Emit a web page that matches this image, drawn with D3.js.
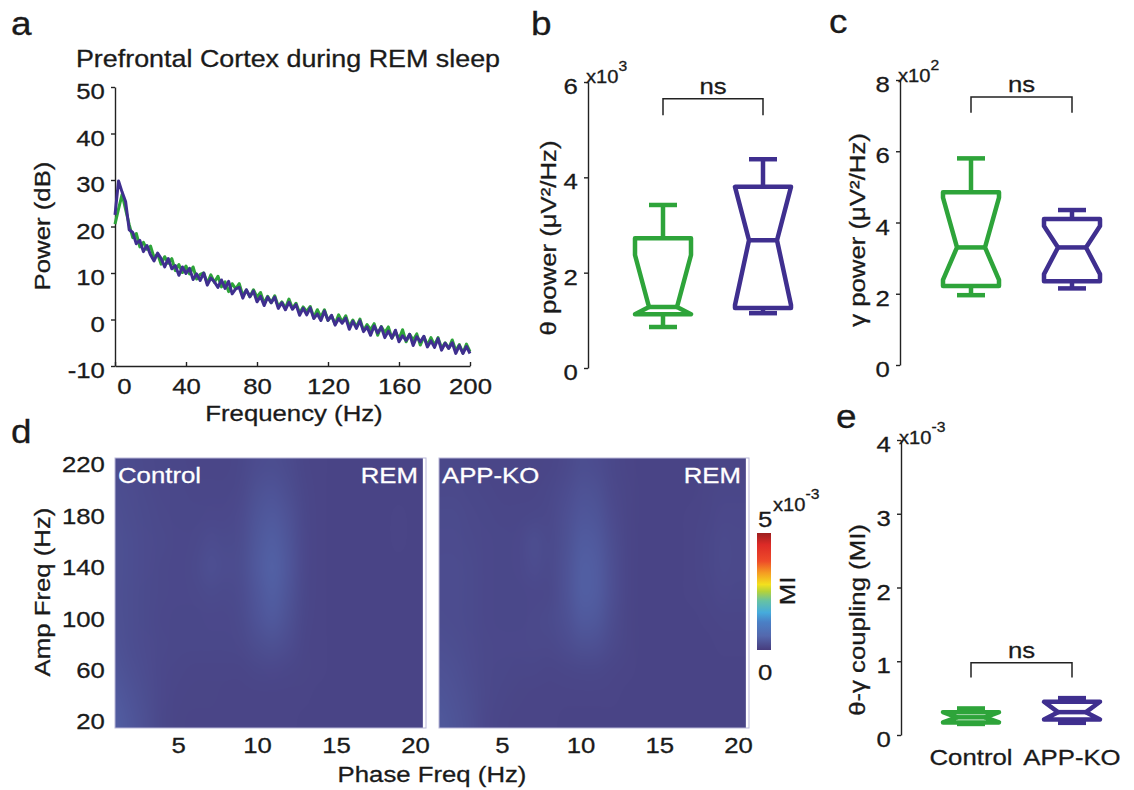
<!DOCTYPE html>
<html>
<head>
<meta charset="utf-8">
<script src="https://cdn.jsdelivr.net/npm/d3@7"></script>
<style>
  body { margin: 0; background: #fff; }
  text { font-family: "Liberation Sans", Arial, sans-serif; fill: #1a1a1a; stroke: #1a1a1a; stroke-width: 0.3px; }
  text.inv { fill: #fff; stroke: #fff; }
</style>
</head>
<body>
<script>
// ---- data ----
var groups = ["Control", "APP-KO"];
var groupColors = ["#2ea43a", "#3f2f8f"];

// PSD (dB), 0..200 Hz every 2 Hz
var psdStep = 2;
var psdControl = [
  20.5, 23.8, 26.9, 23.6, 20.4, 17.6, 18.5, 15.6, 16.6, 15.1,
  15.8, 13.3, 14.1, 11.9, 13.5, 12.1, 13.1, 10.5, 11.8, 10.1,
  11.5, 9.8, 11.3, 8.7, 9.7, 10.0, 7.8, 9.6, 8.0, 9.3,
  7.0, 8.1, 6.0, 7.7, 6.6, 7.7, 5.2, 6.3, 4.9, 6.4,
  4.8, 5.8, 3.5, 5.0, 3.6, 5.1, 2.8, 3.8, 2.4, 4.4,
  2.4, 3.5, 1.4, 2.7, 1.7, 2.8, 0.4, 2.1, 0.5, 2.1,
  -0.2, 0.8, -1.0, 1.0, -0.5, 0.8, -1.5, -0.1, -1.6, 0.1,
  -2.4, -1.1, -2.2, -0.9, -3.4, -1.5, -2.8, -1.6, -4.0, -2.7,
  -4.2, -2.2, -4.8, -3.2, -4.4, -3.1, -5.5, -3.7, -5.5, -3.9,
  -5.5, -3.9, -6.2, -5.0, -6.2, -4.4, -6.7, -5.4, -7.2, -5.3,
  -6.9
];
var psdAppKo = [
  22.5, 29.8, 27.4, 25.3, 19.3, 18.7, 16.3, 17.0, 14.6, 15.9,
  13.9, 12.6, 14.3, 13.1, 11.3, 13.1, 10.9, 11.6, 9.5, 11.3,
  9.9, 11.0, 8.6, 9.8, 8.4, 10.0, 7.4, 8.9, 8.1, 6.9,
  8.5, 6.7, 8.2, 5.5, 6.6, 6.9, 4.6, 6.4, 4.9, 6.1,
  3.8, 5.0, 3.0, 4.8, 3.6, 4.8, 2.4, 3.6, 2.1, 3.7,
  2.2, 3.2, 0.9, 2.4, 1.0, 2.5, 0.2, 1.2, -0.2, 1.8,
  -0.2, 0.9, -1.2, 0.2, -0.8, 0.3, -2.1, -0.4, -1.9, -0.3,
  -2.6, -1.6, -3.4, -1.4, -2.9, -1.6, -3.9, -2.5, -4.0, -2.3,
  -4.8, -3.5, -4.5, -3.2, -5.6, -3.7, -4.8, -3.6, -5.9, -4.6,
  -6.0, -4.1, -6.6, -5.1, -6.2, -5.0, -7.3, -5.6, -7.3, -5.8,
  -7.3
];
var psdTicksX = [0, 40, 80, 120, 160, 200];
var psdTicksY = [-10, 0, 10, 20, 30, 40, 50];

// notched box stats
var thetaPower = [ // x10^3 uV^2/Hz
  { whiskerLo: 0.86, q1: 1.13, notchLo: 1.13, median: 1.28, notchHi: 2.37, q3: 2.72, whiskerHi: 3.42 },
  { whiskerLo: 1.15, q1: 1.26, notchLo: 1.32, median: 2.68, notchHi: 3.80, q3: 3.80, whiskerHi: 4.38 }
];
var gammaPower = [ // x10^2 uV^2/Hz
  { whiskerLo: 1.96, q1: 2.22, notchLo: 2.39, median: 3.30, notchHi: 4.70, q3: 4.85, whiskerHi: 5.80 },
  { whiskerLo: 2.15, q1: 2.35, notchLo: 2.55, median: 3.30, notchHi: 3.90, q3: 4.10, whiskerHi: 4.35 }
];
var couplingMI = [ // x10^-3
  { whiskerLo: 0.15, q1: 0.17, notchLo: 0.17, median: 0.24, notchHi: 0.31, q3: 0.31, whiskerHi: 0.36 },
  { whiskerLo: 0.165, q1: 0.21, notchLo: 0.21, median: 0.31, notchHi: 0.45, q3: 0.45, whiskerHi: 0.50 }
];

// comodulograms (MI x10^-3), rows = amp freq, cols = phase freq
var phaseFreqs = [1, 2, 3, 4, 5, 6, 7, 8, 9, 10, 11, 12, 13, 14, 15, 16, 17, 18, 19, 20];
var ampFreqs = [220, 200, 180, 160, 140, 120, 100, 80, 60, 40, 20];
var miControl = [
  [0.22,0.20,0.18,0.16,0.15,0.14,0.14,0.14,0.16,0.22,0.24,0.20,0.14,0.12,0.11,0.11,0.11,0.11,0.11,0.11],
  [0.24,0.22,0.19,0.17,0.16,0.15,0.15,0.15,0.18,0.28,0.32,0.24,0.15,0.12,0.11,0.11,0.11,0.11,0.11,0.11],
  [0.26,0.23,0.20,0.18,0.16,0.16,0.17,0.17,0.21,0.34,0.40,0.30,0.16,0.12,0.11,0.11,0.11,0.11,0.12,0.11],
  [0.28,0.25,0.21,0.19,0.17,0.18,0.22,0.20,0.23,0.38,0.46,0.34,0.17,0.12,0.11,0.11,0.11,0.11,0.12,0.11],
  [0.28,0.25,0.21,0.18,0.17,0.19,0.26,0.22,0.24,0.40,0.50,0.36,0.17,0.12,0.11,0.11,0.11,0.11,0.11,0.11],
  [0.27,0.24,0.20,0.18,0.17,0.18,0.20,0.19,0.22,0.36,0.46,0.33,0.16,0.12,0.11,0.11,0.11,0.11,0.11,0.11],
  [0.28,0.24,0.20,0.17,0.16,0.16,0.17,0.17,0.20,0.32,0.40,0.28,0.15,0.12,0.11,0.11,0.11,0.11,0.11,0.11],
  [0.30,0.25,0.21,0.18,0.16,0.16,0.16,0.16,0.18,0.24,0.28,0.22,0.14,0.12,0.11,0.11,0.11,0.11,0.11,0.11],
  [0.34,0.27,0.22,0.17,0.15,0.14,0.14,0.14,0.14,0.16,0.17,0.15,0.13,0.12,0.11,0.11,0.11,0.11,0.11,0.11],
  [0.40,0.32,0.24,0.17,0.14,0.13,0.13,0.12,0.12,0.12,0.12,0.12,0.12,0.11,0.11,0.11,0.11,0.11,0.11,0.11],
  [0.45,0.36,0.26,0.16,0.13,0.12,0.12,0.12,0.12,0.12,0.12,0.12,0.11,0.11,0.11,0.11,0.11,0.11,0.11,0.11]
];
var miAppKo = [
  [0.16,0.16,0.15,0.14,0.14,0.13,0.13,0.14,0.18,0.24,0.22,0.16,0.12,0.11,0.11,0.11,0.11,0.12,0.13,0.13],
  [0.18,0.18,0.16,0.15,0.14,0.14,0.14,0.16,0.22,0.30,0.28,0.18,0.13,0.11,0.11,0.11,0.11,0.13,0.15,0.15],
  [0.20,0.20,0.18,0.16,0.15,0.15,0.16,0.18,0.26,0.36,0.34,0.21,0.13,0.11,0.11,0.11,0.12,0.14,0.17,0.17],
  [0.21,0.21,0.19,0.17,0.16,0.17,0.24,0.19,0.28,0.42,0.40,0.24,0.14,0.11,0.11,0.11,0.12,0.15,0.19,0.18],
  [0.22,0.22,0.20,0.17,0.16,0.17,0.22,0.19,0.30,0.46,0.44,0.26,0.14,0.11,0.11,0.11,0.12,0.15,0.19,0.18],
  [0.22,0.22,0.20,0.17,0.16,0.16,0.17,0.18,0.30,0.46,0.44,0.26,0.14,0.11,0.11,0.11,0.12,0.14,0.17,0.16],
  [0.23,0.22,0.20,0.17,0.16,0.16,0.18,0.20,0.27,0.40,0.38,0.23,0.13,0.11,0.11,0.11,0.11,0.12,0.14,0.14],
  [0.26,0.24,0.21,0.18,0.17,0.17,0.18,0.18,0.22,0.28,0.27,0.19,0.13,0.11,0.11,0.11,0.11,0.11,0.12,0.12],
  [0.30,0.27,0.22,0.18,0.16,0.15,0.15,0.14,0.15,0.16,0.16,0.14,0.12,0.11,0.11,0.11,0.11,0.11,0.11,0.11],
  [0.34,0.30,0.24,0.18,0.15,0.13,0.12,0.12,0.12,0.12,0.12,0.12,0.11,0.11,0.11,0.11,0.11,0.11,0.11,0.11],
  [0.38,0.33,0.26,0.17,0.14,0.12,0.12,0.12,0.11,0.11,0.11,0.11,0.11,0.11,0.11,0.11,0.11,0.11,0.11,0.11]
];
var miStops = [0, 0.6, 1.2, 1.6, 2.1, 2.5, 2.8, 3.3, 3.8, 4.5, 5];
var miColors = ["#473c7d", "#5468ad", "#4a80c6", "#46abdc", "#66c2a4", "#b4d23a",
                "#f3e01e", "#f59c22", "#ee4b29", "#dd2a27", "#9c1f1f"];

// ---- setup ----
var SX = 1.12;   // text in the figure is a bit wider than Arial
var FS = 23;
var width = 1134, height = 790;
var plain = function (d) { return String(d).replace("\u2212", "-"); };

var svg = d3.select("body").append("svg")
    .attr("width", width)
    .attr("height", height);

function addText(parent, x, y, str, size, anchor, rot) {
  return parent.append("text")
      .attr("transform", "translate(" + x + "," + y + ")" + (rot ? " rotate(" + rot + ")" : "") + " scale(" + SX + ",1)")
      .attr("font-size", size)
      .attr("text-anchor", anchor || "start")
      .text(str);
}

function styleAxis(g) {
  g.attr("font-size", FS).attr("font-family", null);
  g.select(".domain").attr("stroke", "#222").attr("stroke-width", 1.4);
  g.selectAll(".tick line").attr("stroke", "#222").attr("stroke-width", 1.4);
  g.selectAll(".tick text").attr("fill", "#1a1a1a").attr("transform", "scale(" + SX + ",1)");
}

function exponent(parent, x, y, pow) {
  var t = parent.append("text")
      .attr("transform", "translate(" + x + "," + y + ") scale(" + SX + ",1)")
      .attr("font-size", 18);
  t.append("tspan").text("x10");
  t.append("tspan").attr("dy", -12).attr("font-size", 14).text(pow);
}

// ---- a: power spectrum ----
var xA = d3.scaleLinear().domain([0, 200]).range([115, 470]);
var yA = d3.scaleLinear().domain([-10, 50]).range([366, 87]);

addText(svg, 11, 35, "a", 33);
addText(svg, 288, 67, "Prefrontal Cortex during REM sleep", 24, "middle");

svg.append("g")
    .attr("transform", "translate(115,0)")
    .call(d3.axisLeft(yA).tickValues(psdTicksY).tickFormat(plain).tickSize(4).tickSizeOuter(0).tickPadding(5))
    .call(styleAxis)
    .selectAll(".tick text").attr("dy", "0.5em");

var axA = svg.append("g")
    .attr("transform", "translate(0,366)")
    .call(d3.axisBottom(xA).tickValues(psdTicksX).tickFormat(plain).tickSize(-4).tickSizeOuter(0).tickPadding(12))
    .call(styleAxis);
axA.selectAll(".tick text").filter(function (d) { return d === 0; }).attr("x", 8);

addText(svg, 42, 226, "Power (dB)", FS, "middle", -90).attr("dy", "0.35em");
addText(svg, 294, 421, "Frequency (Hz)", FS, "middle");

var psdLine = d3.line()
    .x(function (d, i) { return xA(i * psdStep); })
    .y(function (d) { return yA(d); });

[psdControl, psdAppKo].forEach(function (series, i) {
  svg.append("path")
      .datum(series)
      .attr("d", psdLine)
      .attr("fill", "none")
      .attr("stroke", groupColors[i])
      .attr("stroke-width", 3)
      .attr("stroke-linejoin", "round");
});

// ---- box panels b, c, e ----
function boxPanel(opt) {
  var y = d3.scaleLinear().domain(opt.domain).range(opt.yRange);
  var x = d3.scalePoint().domain(groups).range(opt.centers);
  var w = 56;

  addText(svg, opt.letter[0], opt.letter[1], opt.letter[2], 33);

  svg.append("g")
      .attr("transform", "translate(" + opt.axisX + ",0)")
      .call(d3.axisLeft(y).tickValues(opt.ticks).tickFormat(plain).tickSize(4).tickSizeOuter(0).tickPadding(5))
      .call(styleAxis)
      .selectAll(".tick text").attr("dy", "0.5em");

  exponent(svg, opt.axisX - 2, opt.expY, opt.pow);
  addText(svg, opt.labelX, opt.labelY, opt.label, FS, "middle", -90).attr("dy", "0.35em");

  opt.stats.forEach(function (s, i) {
    var cx = x(groups[i]);
    var L = cx - w / 2, R = cx + w / 2, nL = cx - w / 4, nR = cx + w / 4;
    var g = svg.append("g")
        .attr("fill", "none")
        .attr("stroke", groupColors[i])
        .attr("stroke-width", 4.5);
    var pts = [[L, y(s.q3)], [R, y(s.q3)], [R, y(s.notchHi)], [nR, y(s.median)], [R, y(s.notchLo)],
               [R, y(s.q1)], [L, y(s.q1)], [L, y(s.notchLo)], [nL, y(s.median)], [L, y(s.notchHi)]];
    g.append("path").attr("d", d3.line()(pts) + "Z").attr("stroke-linejoin", "round");
    g.append("line").attr("x1", nL).attr("x2", nR).attr("y1", y(s.median)).attr("y2", y(s.median));
    g.append("line").attr("x1", cx).attr("x2", cx).attr("y1", y(s.q3)).attr("y2", y(s.whiskerHi));
    g.append("line").attr("x1", cx - w / 4).attr("x2", cx + w / 4).attr("y1", y(s.whiskerHi)).attr("y2", y(s.whiskerHi));
    g.append("line").attr("x1", cx).attr("x2", cx).attr("y1", y(s.q1)).attr("y2", y(s.whiskerLo));
    g.append("line").attr("x1", cx - w / 4).attr("x2", cx + w / 4).attr("y1", y(s.whiskerLo)).attr("y2", y(s.whiskerLo));
  });

  // significance bracket
  var bx0 = x(groups[0]), bx1 = x(groups[1]);
  var yt = y(opt.bracket[1]), yb = y(opt.bracket[0]);
  svg.append("path")
      .attr("d", "M" + bx0 + "," + yb + "V" + yt + "H" + bx1 + "V" + yb)
      .attr("fill", "none").attr("stroke", "#222").attr("stroke-width", 1.5);
  addText(svg, (bx0 + bx1) / 2, yt - 5, "ns", FS, "middle");

  if (opt.xLabels) {
    groups.forEach(function (gName) {
      addText(svg, x(gName), opt.xLabels, gName, FS, "middle");
    });
  }
}

boxPanel({ letter: [531, 35, "b"], domain: [0, 6], yRange: [368, 82], ticks: [0, 2, 4, 6],
  axisX: 588, centers: [663, 763], stats: thetaPower, pow: "3", expY: 83,
  label: "\u03b8 power (\u03bcV\u00b2/Hz)", labelX: 548, labelY: 238, bracket: [5.30, 5.65] });

boxPanel({ letter: [829, 33, "c"], domain: [0, 8], yRange: [365, 80], ticks: [0, 2, 4, 6, 8],
  axisX: 900, centers: [971, 1072], stats: gammaPower, pow: "2", expY: 82,
  label: "\u03b3 power (\u03bcV\u00b2/Hz)", labelX: 857, labelY: 230, bracket: [7.08, 7.52] });

boxPanel({ letter: [836, 428, "e"], domain: [0, 4], yRange: [735, 440], ticks: [0, 1, 2, 3, 4],
  axisX: 901, centers: [971, 1072], stats: couplingMI, pow: "-3", expY: 444,
  label: "\u03b8-\u03b3 coupling (MI)", labelX: 857, labelY: 620, bracket: [0.78, 0.98], xLabels: 765 });

// ---- d: comodulograms ----
var miColor = d3.scaleLinear().domain(miStops).range(miColors).clamp(true);
var yH = d3.scaleLinear().domain([15, 225]).range([728, 458]);
var xH1 = d3.scaleLinear().domain([1, 20.7]).range([115, 426]);
var xH2 = d3.scaleLinear().domain([1, 20.7]).range([439, 749]);

addText(svg, 11, 443, "d", 33);

var defs = svg.append("defs");

function heatImage(values, w, h) {
  var rows = values.length, cols = values[0].length;
  var small = document.createElement("canvas");
  small.width = cols; small.height = rows;
  var sctx = small.getContext("2d");
  var img = sctx.createImageData(cols, rows);
  values.forEach(function (row, i) {
    row.forEach(function (v, j) {
      var c = d3.rgb(miColor(v)), k = (i * cols + j) * 4;
      img.data[k] = c.r; img.data[k + 1] = c.g; img.data[k + 2] = c.b; img.data[k + 3] = 255;
    });
  });
  sctx.putImageData(img, 0, 0);
  var big = document.createElement("canvas");
  big.width = Math.round(w); big.height = Math.round(h);
  var bctx = big.getContext("2d");
  bctx.imageSmoothingEnabled = true;
  bctx.imageSmoothingQuality = "high";
  bctx.drawImage(small, 0, 0, big.width, big.height);
  return big.toDataURL();
}

function heatmap(xs, values, name, id) {
  var r0 = xs.range(), yr = yH.range();
  defs.append("clipPath").attr("id", id)
    .append("rect").attr("x", r0[0]).attr("y", yr[1]).attr("width", r0[1] - r0[0]).attr("height", yr[0] - yr[1]);

  var ix0 = xs(phaseFreqs[0] - 0.5), ix1 = xs(phaseFreqs[phaseFreqs.length - 1] + 0.5);
  var iy0 = yH(ampFreqs[0] + 10), iy1 = yH(ampFreqs[ampFreqs.length - 1] - 10);
  svg.append("image")
      .attr("clip-path", "url(#" + id + ")")
      .attr("x", ix0).attr("y", iy0)
      .attr("width", ix1 - ix0).attr("height", iy1 - iy0)
      .attr("preserveAspectRatio", "none")
      .attr("href", heatImage(values, ix1 - ix0, iy1 - iy0));

  svg.append("rect")
      .attr("x", r0[0]).attr("y", yr[1]).attr("width", r0[1] - r0[0]).attr("height", yr[0] - yr[1])
      .attr("fill", "none").attr("stroke", "#b9b7d8").attr("stroke-width", 1);

  addText(svg, r0[0] + 3, 483, name, FS).attr("class", "inv");
  addText(svg, r0[1] - 8, 483, "REM", FS, "end").attr("class", "inv");

  var ax = svg.append("g")
      .attr("transform", "translate(0," + yr[0] + ")")
      .call(d3.axisBottom(xs).tickValues([5, 10, 15, 20]).tickSize(0).tickPadding(9))
      .call(styleAxis);
  ax.select(".domain").remove();
}

heatmap(xH1, miControl, "Control", "clipCtrl");
heatmap(xH2, miAppKo, "APP-KO", "clipKo");

var ayH = svg.append("g")
    .attr("transform", "translate(115,0)")
    .call(d3.axisLeft(yH).tickValues([20, 60, 100, 140, 180, 220]).tickSize(0).tickPadding(9))
    .call(styleAxis);
ayH.select(".domain").remove();

addText(svg, 42, 592, "Amp Freq (Hz)", FS, "middle", -90).attr("dy", "0.35em");
addText(svg, 432, 782, "Phase Freq (Hz)", FS, "middle");

// colorbar
var yCB = d3.scaleLinear().domain([0, 5]).range([650, 533]);
var grad = defs.append("linearGradient").attr("id", "miGrad")
    .attr("x1", 0).attr("y1", 1).attr("x2", 0).attr("y2", 0);
miStops.forEach(function (s, i) {
  grad.append("stop").attr("offset", s / 5).attr("stop-color", miColors[i]);
});
svg.append("rect")
    .attr("x", 757).attr("y", yCB(5)).attr("width", 14).attr("height", yCB(0) - yCB(5))
    .attr("fill", "url(#miGrad)");
addText(svg, 758, yCB(5) - 6, "5", FS);
addText(svg, 758, yCB(0) + 30, "0", FS);
exponent(svg, 773, yCB(5) - 22, "-3");
addText(svg, 787, 591, "MI", FS, "middle", -90).attr("dy", "0.35em");
</script>
</body>
</html>
